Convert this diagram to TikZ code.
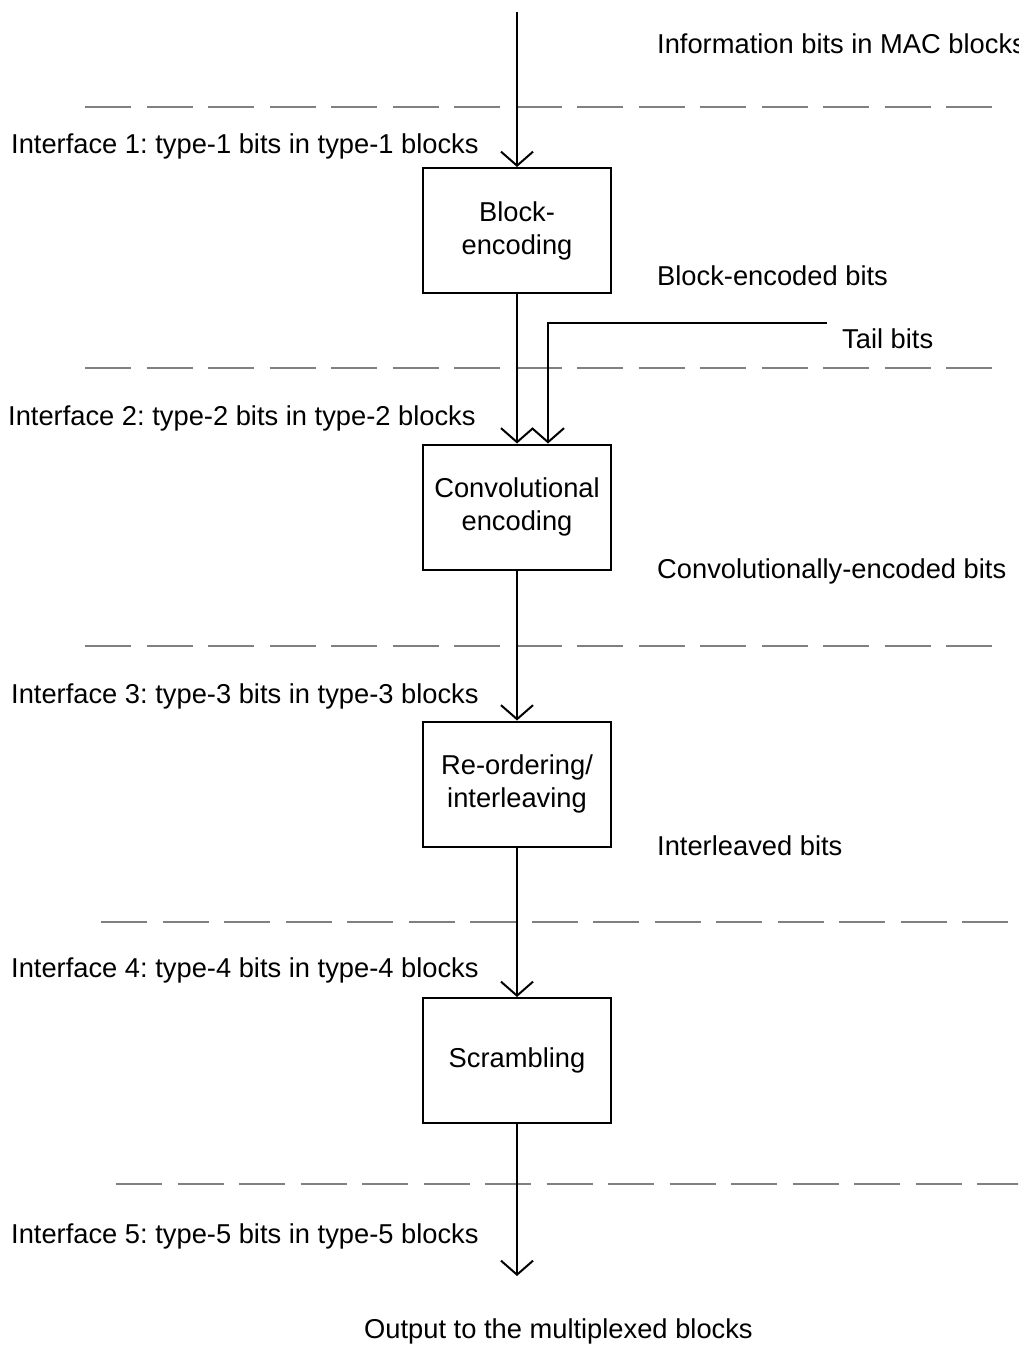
\documentclass[tikz,border=0pt]{standalone}
\usepackage{fontspec}
\setmainfont{Liberation Sans}
\usetikzlibrary{arrows.meta}
\definecolor{dashgray}{HTML}{808080}
\frenchspacing
\begin{document}
\begin{tikzpicture}[x=1pt,y=-1pt,
  every node/.style={font=\fontsize{27.3}{33}\selectfont},
  procbox/.style={draw,line width=2pt,minimum width=188pt,minimum height=125pt,inner sep=0pt,align=center},
  lbl/.style={anchor=base west,inner sep=0pt},
  flow/.style={line width=2pt,-{Straight Barb[length=14pt,width=32pt]}},
  iface/.style={draw=dashgray,line width=2pt,dash pattern=on 46pt off 15.5pt}]
\useasboundingbox (0,0) rectangle (1018,1367);
\clip (0,0) rectangle (1018,1367);
% boxes
\node[procbox] (b1) at (517,230.5) {Block-\\encoding};
\node[procbox] (b2) at (517,507) {Convolutional\\encoding};
\node[procbox] (b3) at (517,784) {Re-ordering/\\interleaving};
\node[procbox] (b4) at (517,1060.5) {Scrambling};
% interface lines
\coordinate (d1a) at (85,107);  \coordinate (d1b) at (996,107);
\coordinate (d2a) at (85,368);  \coordinate (d2b) at (996,368);
\coordinate (d3a) at (85,646);  \coordinate (d3b) at (996,646);
\coordinate (d4a) at (101,922); \coordinate (d4b) at (1012,922);
\coordinate (d5a) at (116,1184); \coordinate (d5b) at (1030,1184);
\draw[iface] (d1a) -- (d1b);
\draw[iface] (d2a) -- (d2b);
\draw[iface] (d3a) -- (d3b);
\draw[iface] (d4a) -- (d4b);
\draw[iface] (d5a) -- (d5b);
% flow
\coordinate (in) at (517,12);
\coordinate (out) at (517,1276);
\coordinate (tail) at (827,323);
\draw[flow] (in) -- (b1.north);
\draw[flow] (b1.south) -- (b2.north);
\draw[flow] (tail) -| ([xshift=31pt]b2.north);
\draw[flow] (b2.south) -- (b3.north);
\draw[flow] (b3.south) -- (b4.north);
\draw[flow] (b4.south) -- (out);
% labels
\node[lbl] (t0) at (657,54) {Information bits in MAC blocks};
\node[lbl] (i1) at (11,154) {Interface 1: type-1 bits in type-1 blocks};
\node[lbl] (t1) at (657,285) {Block-encoded bits};
\node[lbl] (tb) at (842,348) {Tail bits};
\node[lbl] (i2) at (8,425) {Interface 2: type-2 bits in type-2 blocks};
\node[lbl] (t2) at (657,578) {Convolutionally-encoded bits};
\node[lbl] (i3) at (11,703) {Interface 3: type-3 bits in type-3 blocks};
\node[lbl] (t3) at (657,855) {Interleaved bits};
\node[lbl] (i4) at (11,977) {Interface 4: type-4 bits in type-4 blocks};
\node[lbl] (i5) at (11,1243) {Interface 5: type-5 bits in type-5 blocks};
\node[lbl] (o) at (364,1338) {Output to the multiplexed blocks};
\end{tikzpicture}
\end{document}
